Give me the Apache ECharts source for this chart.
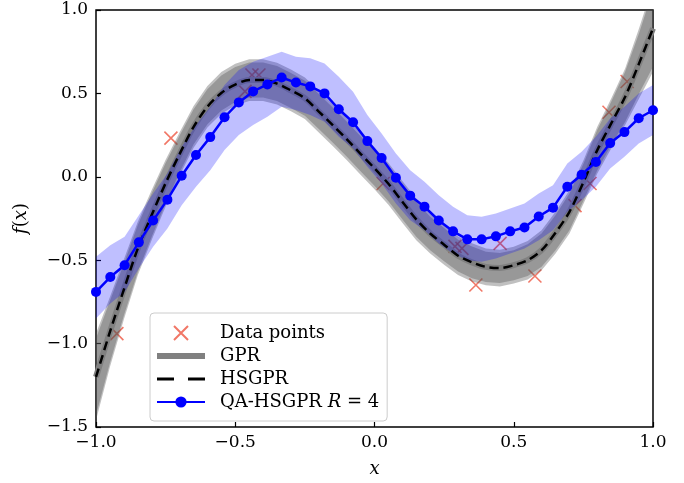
<!DOCTYPE html>
<html>
<head>
<meta charset="utf-8">
<script src="https://cdn.jsdelivr.net/npm/echarts@6/dist/echarts.min.js"></script>
<style>html,body{margin:0;padding:0;background:#fff;}#c{width:684px;height:483px;}</style>
</head>
<body>
<div id="c"></div>
<script>
// ---- data ----
const xTicks = [-1.0, -0.5, 0.0, 0.5, 1.0];
const yTicks = [-1.5, -1.0, -0.5, 0.0, 0.5, 1.0];

const dataX = [-0.925, -0.731, -0.465, -0.44, -0.415, 0.031, 0.289, 0.314, 0.364, 0.451, 0.576, 0.72, 0.774, 0.842, 0.907];
const dataY = [-0.94, 0.232, 0.512, 0.61, 0.61, -0.04, -0.417, -0.429, -0.649, -0.399, -0.595, -0.173, -0.04, 0.387, 0.571];

const gpX = [-1.0,-0.95,-0.9,-0.85,-0.8,-0.75,-0.7,-0.65,-0.6,-0.55,-0.5,-0.45,-0.4,-0.35,-0.3,-0.25,-0.2,-0.15,-0.1,-0.05,0.0,
             0.05,0.1,0.15,0.2,0.25,0.3,0.35,0.4,0.45,0.5,0.55,0.6,0.65,0.7,0.75,0.8,0.85,0.9,0.95,1.0];
const gprMean = [-1.20,-0.93,-0.676,-0.43,-0.229,-0.038,0.136,0.298,0.42,0.503,0.553,0.58,0.58,0.559,0.518,0.471,0.391,0.31,0.226,0.138,0.051,
                 -0.042,-0.15,-0.255,-0.34,-0.407,-0.473,-0.513,-0.54,-0.547,-0.53,-0.5,-0.44,-0.335,-0.21,-0.033,0.16,0.32,0.48,0.68,0.89];
const hsgprMean = [-1.20,-0.93,-0.676,-0.43,-0.229,-0.038,0.136,0.298,0.42,0.503,0.553,0.58,0.58,0.559,0.518,0.471,0.391,0.31,0.226,0.138,0.051,
                 -0.042,-0.15,-0.255,-0.34,-0.407,-0.473,-0.513,-0.54,-0.547,-0.53,-0.5,-0.44,-0.335,-0.21,-0.033,0.16,0.32,0.48,0.68,0.89];
const gprHalf = [0.26,0.21,0.18,0.16,0.15,0.14,0.13,0.125,0.125,0.125,0.125,0.125,0.125,0.125,0.125,0.125,0.125,0.125,0.125,0.125,0.125,
                 0.125,0.125,0.125,0.12,0.12,0.115,0.115,0.11,0.11,0.11,0.115,0.12,0.125,0.13,0.13,0.14,0.15,0.17,0.21,0.26];
const hsgprHalf = [0.23,0.185,0.155,0.14,0.13,0.12,0.11,0.105,0.105,0.105,0.105,0.105,0.105,0.105,0.105,0.105,0.105,0.105,0.105,0.105,0.105,
                 0.105,0.105,0.105,0.1,0.1,0.095,0.095,0.09,0.09,0.09,0.095,0.1,0.105,0.11,0.11,0.12,0.13,0.15,0.18,0.23];

const qaX = [-1,-0.9487,-0.8974,-0.8462,-0.7949,-0.7436,-0.6923,-0.641,-0.5897,-0.5385,-0.4872,-0.4359,-0.3846,-0.3333,-0.2821,-0.2308,-0.1795,-0.1282,-0.0769,-0.0256,
             0.0256,0.0769,0.1282,0.1795,0.2308,0.2821,0.3333,0.3846,0.4359,0.4872,0.5385,0.5897,0.641,0.6923,0.7436,0.7949,0.8462,0.8974,0.9487,1];
const qaMean = [-0.690,-0.601,-0.530,-0.393,-0.262,-0.137,0.006,0.131,0.238,0.357,0.446,0.512,0.554,0.595,0.565,0.542,0.500,0.405,0.327,0.214,
                0.113,-0.006,-0.113,-0.179,-0.262,-0.327,-0.375,-0.375,-0.357,-0.327,-0.304,-0.238,-0.185,-0.060,0.012,0.089,0.202,0.268,0.351,0.399];
const qaUpper = [-0.48,-0.41,-0.36,-0.23,-0.10,0.02,0.18,0.31,0.42,0.55,0.64,0.69,0.72,0.75,0.72,0.71,0.68,0.60,0.51,0.37,
                 0.26,0.14,0.04,-0.03,-0.11,-0.18,-0.23,-0.24,-0.22,-0.19,-0.16,-0.10,-0.05,0.08,0.15,0.24,0.35,0.42,0.50,0.55];
const qaLower = [-0.85,-0.76,-0.69,-0.55,-0.42,-0.31,-0.17,-0.06,0.04,0.16,0.25,0.31,0.36,0.42,0.40,0.37,0.33,0.24,0.17,0.06,
                 -0.04,-0.16,-0.26,-0.32,-0.40,-0.46,-0.50,-0.51,-0.49,-0.46,-0.43,-0.38,-0.32,-0.21,-0.14,-0.06,0.05,0.12,0.20,0.25];

// ---- chart ----
const FONT = 'DejaVu Serif';
const pairs = (xs, ys) => xs.map((x, i) => [x, ys[i]]);
const fmt = v => (v < 0 ? '\u2212' : '') + Math.abs(v).toFixed(1);

function band(xs, up, lo, color, z) {
  return {
    type: 'custom', silent: true, clip: true, z: z,
    data: [[xs[0], up[0]]],
    renderItem: function (params, api) {
      const pts = [];
      for (let i = 0; i < xs.length; i++) pts.push(api.coord([xs[i], up[i]]));
      for (let i = xs.length - 1; i >= 0; i--) pts.push(api.coord([xs[i], lo[i]]));
      return { type: 'polygon', shape: { points: pts }, style: { fill: color, stroke: null } };
    }
  };
}

const gprUp = gprMean.map((m, i) => m + gprHalf[i]);
const gprLo = gprMean.map((m, i) => m - gprHalf[i]);
const hsUp = hsgprMean.map((m, i) => m + hsgprHalf[i]);
const hsLo = hsgprMean.map((m, i) => m - hsgprHalf[i]);

const chart = echarts.init(document.getElementById('c'), null, { renderer: 'canvas' });
const option = {
  animation: false,
  backgroundColor: '#fff',
  grid: { left: 96, right: 31, top: 10, bottom: 53, show: true, borderColor: '#000', borderWidth: 1.5, backgroundColor: 'transparent' },
  xAxis: {
    type: 'value', min: xTicks[0], max: xTicks[xTicks.length - 1], interval: 0.5,
    axisLine: { show: false, onZero: false }, splitLine: { show: false },
    axisTick: { show: true, inside: true, length: 5, lineStyle: { color: '#000', width: 1.2 } },
    axisLabel: { formatter: fmt, color: '#000', fontFamily: FONT, fontSize: 17, margin: 7, showMinLabel: true, showMaxLabel: true },
    name: 'x', nameLocation: 'middle', nameGap: 33,
    nameTextStyle: { fontFamily: FONT, fontStyle: 'italic', fontSize: 18, color: '#000' }
  },
  yAxis: {
    type: 'value', min: yTicks[0], max: yTicks[yTicks.length - 1], interval: 0.5,
    axisLine: { show: false, onZero: false }, splitLine: { show: false },
    axisTick: { show: true, inside: true, length: 5, lineStyle: { color: '#000', width: 1.2 } },
    axisLabel: { formatter: fmt, color: '#000', fontFamily: FONT, fontSize: 17, margin: 8, showMinLabel: true, showMaxLabel: true },
    name: '{i|f}{n|(}{i|x}{n|)}', nameLocation: 'middle', nameGap: 66, nameRotate: 90,
    nameTextStyle: { color: '#000', rich: {
      i: { fontFamily: FONT, fontStyle: 'italic', fontSize: 18, color: '#000' },
      n: { fontFamily: FONT, fontSize: 18, color: '#000' } } }
  },
  legend: {
    orient: 'vertical', left: 150, top: 313,
    itemWidth: 48, itemHeight: 14, itemGap: 5,
    padding: [11, 8, 10, 6],
    backgroundColor: 'rgba(255,255,255,0.8)', borderColor: '#cccccc', borderWidth: 1, borderRadius: 4,
    textStyle: { fontFamily: FONT, fontSize: 18, color: '#000', lineHeight: 14, padding: [0, 0, 0, 10],
      rich: { n: { fontFamily: FONT, fontSize: 18, color: '#000', lineHeight: 14 },
              i: { fontFamily: FONT, fontStyle: 'italic', fontSize: 18, color: '#000', lineHeight: 14 } } },
    formatter: function (name) {
      if (name === 'QA-HSGPR') return '{n|QA-HSGPR }{i|R}{n| = 4}';
      return name;
    },
    data: [
      { name: 'Data points' },
      { name: 'GPR', icon: 'path://M0,0H48V6H0Z' },
      { name: 'HSGPR', icon: 'path://M0,0H17V3H0Z M31,0H48V3H31Z' },
      { name: 'QA-HSGPR' }
    ]
  },
  series: [
    {
      name: 'Data points', type: 'scatter', z: 1,
      symbol: 'path://M0,0L10,10M10,0L0,10', symbolSize: 13, symbolKeepAspect: true,
      itemStyle: { color: 'rgba(0,0,0,0)', borderColor: '#ee5540', borderWidth: 1.6 },
      data: pairs(dataX, dataY)
    },
    band(gpX, gprUp, gprLo, 'rgba(80,80,80,0.36)', 2),
    band(gpX, hsUp, hsLo, 'rgba(80,80,80,0.36)', 2),
    {
      name: 'GPR', type: 'line', z: 3, smooth: 0.3, showSymbol: false, symbol: 'none',
      lineStyle: { color: '#808080', width: 6 }, itemStyle: { color: '#808080' },
      data: pairs(gpX, gprMean)
    },
    band(qaX, qaUpper, qaLower, 'rgba(0,0,255,0.25)', 4),
    {
      name: 'HSGPR', type: 'line', z: 5, smooth: 0.3, showSymbol: false, symbol: 'none',
      lineStyle: { color: '#000', width: 2.5, type: [9, 5] }, itemStyle: { color: '#000' },
      data: pairs(gpX, hsgprMean)
    },
    {
      name: 'QA-HSGPR', type: 'line', z: 6, symbol: 'circle', symbolSize: 10,
      lineStyle: { color: '#0000ff', width: 2.5 }, itemStyle: { color: '#0000ff' },
      data: pairs(qaX, qaMean)
    }
  ]
};
chart.setOption(option);
</script>
</body>
</html>
